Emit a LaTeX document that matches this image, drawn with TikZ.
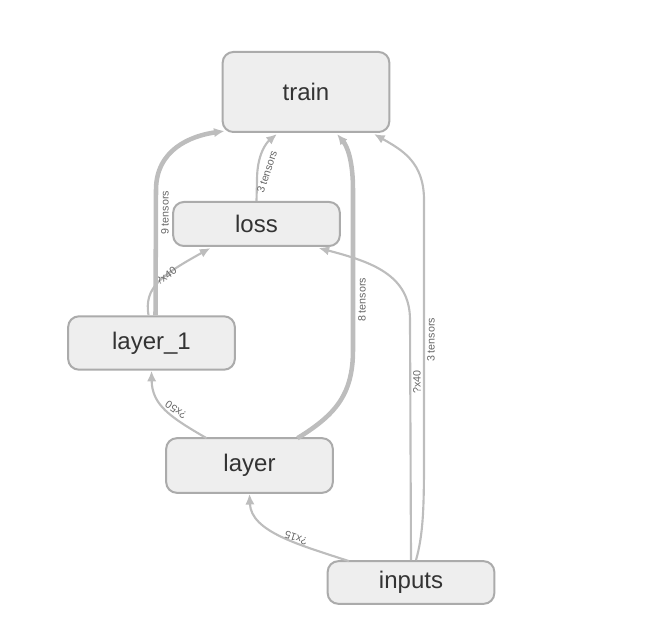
\documentclass[tikz,border=0pt]{standalone}
\usepackage{fontspec}
\setmainfont{Liberation Sans}
\usetikzlibrary{arrows.meta,calc}
\definecolor{edgegray}{HTML}{BDBDBD}
\definecolor{boxborder}{HTML}{ABABAB}
\definecolor{boxfill}{HTML}{EEEEEE}
\definecolor{boxtext}{HTML}{333333}
\definecolor{lbltext}{HTML}{666666}
\tikzset{
  opbox/.style={draw=boxborder, fill=boxfill, line width=1.5pt, rounded corners=8pt,
    minimum width=125pt, text=boxtext, font=\fontsize{18}{21}\selectfont, inner sep=0pt},
  thinedge/.style={draw=edgegray, line width=1.6pt, -{Latex[length=8pt,width=7pt]}},
  thickedge/.style={draw=edgegray, line width=3.4pt, -{Latex[length=8pt,width=7pt]}},
  lbl/.style={text=lbltext, font=\fontsize{8}{9.5}\selectfont, inner sep=0.5pt}
}
\begin{document}
\begin{tikzpicture}[x=0.75pt, y=-0.75pt]
\useasboundingbox (0,0) rectangle (667,641);
\node[opbox, minimum height=60pt] (train) at (306,92) {train};
\node[opbox, minimum height=33pt] (loss) at (256.5,224) {loss};
\node[opbox, minimum height=40pt] (l1) at (151.5,343) {layer\_1};
\node[opbox, minimum height=41pt] (layer) at (249.5,465.5) {layer};
\node[opbox, minimum height=32pt] (inputs) at (411,582.5) {inputs};
% layer_1 -> loss
\draw[thinedge] ($(l1.north)+(-3,0)$) .. controls (144,288) and (160,276) .. ($(loss.south)+(-46,1)$);
\node[lbl, rotate=35] at (166,276) {?x40};
% layer_1 -> train
\draw[thickedge] ($(l1.north)+(4,0)$) -- (156,190) .. controls (156,150) and (190,136) .. ($(train.south west)+(3,-2)$);
\node[lbl, rotate=90] at (165,213) {9 tensors};
% loss -> train
\draw[thinedge] (loss.north) -- (257,180) .. controls (257,155) and (266,143) .. ($(train.south)+(-29,1)$);
\node[lbl, rotate=72] at (267,172) {3 tensors};
% layer -> train
\draw[thickedge] ($(layer.north)+(48,1)$) .. controls (335,415) and (353,395) .. (353,350) -- (353,190) .. controls (353,160) and (347,146) .. ($(train.south)+(31,1)$);
\node[lbl, rotate=90] at (362,300) {8 tensors};
% layer -> layer_1
\draw[thinedge] ($(layer.north)+(-43,1)$) .. controls (170,417) and (152,405) .. (l1.south);
\node[lbl, rotate=145] at (176,410) {?x50};
% inputs -> layer
\draw[thinedge] ($(inputs.north)+(-62,1)$) .. controls (300,545) and (251,532) .. (layer.south);
\node[lbl, rotate=162] at (296,538) {?x15};
% inputs -> loss
\draw[thinedge] (inputs.north) -- (410,320) .. controls (410,275) and (372,262) .. ($(loss.south)+(62,1)$);
\node[lbl, rotate=90] at (417,382) {?x40};
% inputs -> train
\draw[thinedge] ($(inputs.north)+(5,0)$) .. controls (423,535) and (424,510) .. (424,460) -- (424,200) .. controls (424,162) and (402,150) .. ($(train.south)+(68,1)$);
\node[lbl, rotate=90] at (431,340) {3 tensors};
\end{tikzpicture}
\end{document}
